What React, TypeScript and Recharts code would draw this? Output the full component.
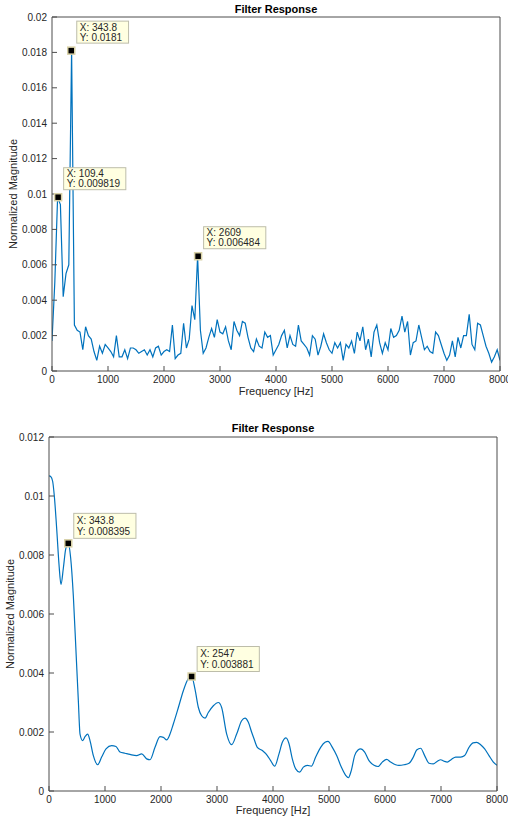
import { ComposedChart, Line, Scatter, XAxis, YAxis } from 'recharts'

// spectrum before filtering, one value every 50 Hz from 0 to 8000 Hz
const STEP_HZ = 50
const rawMags = [
  0.0017, 0.0050, 0.0098, 0.0094, 0.0042, 0.0055, 0.0060, 0.0181, 0.0026, 0.0023,
  0.0022, 0.0012, 0.0025, 0.0020, 0.0018, 0.0011, 0.0006, 0.0014, 0.0010, 0.0015,
  0.0013, 0.0011, 0.0008, 0.0020, 0.0008, 0.0008, 0.0012, 0.0007, 0.0013, 0.0013,
  0.0012, 0.0010, 0.0011, 0.0012, 0.0009, 0.0012, 0.0008, 0.0013, 0.0014, 0.0009,
  0.0011, 0.0012, 0.0011, 0.0026, 0.0007, 0.0009, 0.0010, 0.0027, 0.0013, 0.0018,
  0.0037, 0.0029, 0.00648, 0.0023, 0.0010, 0.0013, 0.0019, 0.0024, 0.0019, 0.0029,
  0.0022, 0.0021, 0.0025, 0.0017, 0.0012, 0.0028, 0.0023, 0.0020, 0.0028, 0.0027,
  0.0019, 0.0013, 0.0011, 0.0018, 0.0014, 0.0013, 0.0022, 0.0019, 0.0020, 0.0009,
  0.0012, 0.0015, 0.0020, 0.0023, 0.0013, 0.0020, 0.0015, 0.0014, 0.0026, 0.0017,
  0.0015, 0.0013, 0.0009, 0.0020, 0.0018, 0.0009, 0.0014, 0.0021, 0.0016, 0.0012,
  0.0010, 0.0016, 0.0013, 0.0016, 0.0006, 0.0015, 0.0013, 0.0017, 0.0010, 0.0022,
  0.0017, 0.0025, 0.0012, 0.0018, 0.0008, 0.0022, 0.0026, 0.0016, 0.0010, 0.0016,
  0.0012, 0.0024, 0.0019, 0.0020, 0.0023, 0.0031, 0.0022, 0.0028, 0.0009, 0.0016,
  0.0017, 0.0026, 0.0019, 0.0012, 0.0014, 0.0011, 0.0010, 0.0022, 0.0020, 0.0015,
  0.0010, 0.0006, 0.0009, 0.0017, 0.0008, 0.0019, 0.0013, 0.0020, 0.0020, 0.0032,
  0.0015, 0.0012, 0.0027, 0.0026, 0.0020, 0.0014, 0.0010, 0.0005, 0.0008, 0.0012,
  0.0006,
]
const rawFreqs = rawMags.map((_, i) => i * STEP_HZ)

// smoothed response, sampled at its turning points
const respFreqs = [
  0, 30, 65, 95, 137, 179, 214, 256, 298, 343.8,
  387, 435, 482, 524, 554, 601, 643, 690, 732, 792,
  869, 940, 1018, 1119, 1196, 1268, 1357, 1446, 1565, 1655,
  1744, 1804, 1893, 1982, 2042, 2101, 2161, 2220, 2310, 2399,
  2488, 2547, 2607, 2667, 2726, 2786, 2845, 2935, 3024, 3083,
  3173, 3262, 3351, 3440, 3500, 3560, 3619, 3661, 3720, 3810,
  3899, 3958, 4030, 4107, 4167, 4232, 4286, 4345, 4405, 4476,
  4542, 4613, 4685, 4762, 4851, 4929, 4982, 5060, 5137, 5220,
  5298, 5345, 5399, 5458, 5518, 5565, 5637, 5714, 5804, 5875,
  5952, 6030, 6101, 6190, 6250, 6339, 6429, 6506, 6565, 6637,
  6708, 6786, 6863, 6935, 6994, 7054, 7113, 7185, 7262, 7351,
  7423, 7500, 7571, 7637, 7708, 7780, 7857, 7935, 8000,
]
const respMags = [
  0.01068, 0.01066, 0.0105, 0.0100, 0.0089, 0.00767, 0.0070, 0.00755, 0.0082, 0.008395,
  0.0079, 0.0066, 0.00474, 0.00306, 0.00193, 0.00171, 0.00184, 0.00193, 0.00171, 0.0012,
  0.00089, 0.00115, 0.00143, 0.00154, 0.00151, 0.00132, 0.00128, 0.00124, 0.0012, 0.00126,
  0.00109, 0.00106, 0.00148, 0.00184, 0.00182, 0.00173, 0.00193, 0.00227, 0.00283, 0.0034,
  0.00381, 0.003881, 0.00345, 0.00283, 0.00255, 0.00247, 0.00266, 0.00289, 0.0030, 0.00283,
  0.00193, 0.00157, 0.00193, 0.00238, 0.00247, 0.00233, 0.00199, 0.00177, 0.00148, 0.00137,
  0.0012, 0.00103, 0.00084, 0.00126, 0.00165, 0.0018, 0.0016, 0.00109, 0.00075, 0.00064,
  0.00081, 0.00087, 0.00084, 0.00115, 0.00148, 0.00165, 0.00168, 0.00148, 0.0012, 0.00081,
  0.00053, 0.00045, 0.0007, 0.0012, 0.00139, 0.00143, 0.00132, 0.00103, 0.00087, 0.00083,
  0.00098, 0.00107, 0.00098, 0.00089, 0.00087, 0.00089, 0.00094, 0.00115, 0.00139, 0.00145,
  0.0012, 0.00094, 0.00092, 0.00101, 0.00106, 0.00101, 0.00098, 0.00107, 0.00115, 0.00115,
  0.0012, 0.00148, 0.00163, 0.00165, 0.00157, 0.00143, 0.0012, 0.00098, 0.00087,
]

// data tips
const rawTipFreqs = [343.8, 109.4, 2609]
const rawTipMags = [0.0181, 0.009819, 0.006484]
const respTipFreqs = [343.8, 2547]
const respTipMags = [0.008395, 0.003881]

const freqTicks = [0, 1000, 2000, 3000, 4000, 5000, 6000, 7000, 8000]
const rawMagTicks = [0, 0.002, 0.004, 0.006, 0.008, 0.01, 0.012, 0.014, 0.016, 0.018, 0.02]
const respMagTicks = [0, 0.002, 0.004, 0.006, 0.008, 0.01, 0.012]

const FONT = "'Liberation Sans', Arial, Helvetica, sans-serif"
const AXIS = '#4d4d4d'
const TEXT = '#262626'
const BLUE = '#0072BD'

const zip = (fs: number[], vs: number[]) => fs.map((f, i) => ({ f, v: vs[i] }))

function DataTip(props: any) {
  const { cx, cy, payload, boxH, lift, lineGap } = props
  if (cx == null || cy == null) return null
  const lines = [`X: ${payload.f}`, `Y: ${payload.v}`]
  const w = Math.max(...lines.map((s) => s.length)) * 5.2 + 5
  const left = cx + 5.5
  const top = cy - lift - boxH
  const first = top + (boxH - lineGap) / 2 + 3.5
  return (
    <g>
      <rect x={left} y={top} width={w} height={boxH} fill="#FFFFE1" stroke="#BDBDAA" strokeWidth={1} />
      {lines.map((s, i) => (
        <text key={i} x={left + 3} y={first + i * lineGap} fontSize={10} fill={TEXT} fontFamily={FONT}>
          {s}
        </text>
      ))}
      <rect x={cx - 3.5} y={cy - 3.5} width={7} height={7} fill="#000" stroke="#D8D1A6" strokeWidth={1.5} />
    </g>
  )
}

interface PanelProps {
  height: number
  top: number
  right: number
  yWidth: number
  xHeight: number
  data: { f: number; v: number }[]
  tips: { f: number; v: number }[]
  yTicks: number[]
  yMax: number
  curve: 'linear' | 'monotone'
  boxH: number
  lineGap: number
  lift: number
  titleLift: number
  xTitleDrop: number
  yTitleX: number
}

function Panel(p: PanelProps) {
  const tick = { fontSize: 10, fill: TEXT, fontFamily: FONT }
  const axisLine = { stroke: AXIS, strokeWidth: 1 }
  return (
    <ComposedChart
      width={508}
      height={p.height}
      // the top and right box axes are 1px wide, taken off the margins here
      margin={{ top: p.top - 1, right: p.right - 1, bottom: 0, left: 0 }}
      style={{ fontFamily: FONT }}
    >
      <XAxis
        xAxisId="b"
        dataKey="f"
        type="number"
        domain={[0, 8000]}
        allowDataOverflow
        ticks={freqTicks}
        interval={0}
        height={p.xHeight}
        tickSize={-5}
        tickMargin={10}
        tick={tick}
        tickLine={axisLine}
        axisLine={axisLine}
        label={{
          content: ({ viewBox }: any) => (
            <text
              x={viewBox.x + viewBox.width / 2}
              y={viewBox.y + p.xTitleDrop}
              textAnchor="middle"
              fontSize={11}
              fill={TEXT}
              fontFamily={FONT}
            >
              Frequency [Hz]
            </text>
          ),
        }}
      />
      <XAxis
        xAxisId="t"
        orientation="top"
        type="number"
        domain={[0, 8000]}
        allowDataOverflow
        ticks={freqTicks}
        interval={0}
        height={1}
        tickSize={-5}
        tick={false}
        tickLine={axisLine}
        axisLine={axisLine}
        label={{
          content: ({ viewBox }: any) => (
            <text
              x={viewBox.x + viewBox.width / 2}
              y={viewBox.y + viewBox.height - p.titleLift}
              textAnchor="middle"
              fontSize={11}
              fontWeight="bold"
              fill="#000"
              fontFamily={FONT}
            >
              Filter Response
            </text>
          ),
        }}
      />
      <YAxis
        yAxisId="l"
        type="number"
        domain={[0, p.yMax]}
        allowDataOverflow
        ticks={p.yTicks}
        interval={0}
        width={p.yWidth}
        tickSize={-5}
        tickMargin={10}
        tick={tick}
        tickLine={axisLine}
        axisLine={axisLine}
        tickFormatter={(v: number) => String(v)}
        label={{
          content: ({ viewBox }: any) => {
            const x = p.yTitleX
            const y = viewBox.y + viewBox.height / 2
            return (
              <text
                x={x}
                y={y}
                transform={`rotate(-90, ${x}, ${y})`}
                textAnchor="middle"
                dominantBaseline="central"
                fontSize={11}
                fill={TEXT}
                fontFamily={FONT}
              >
                Normalized Magnitude
              </text>
            )
          },
        }}
      />
      <YAxis
        yAxisId="r"
        orientation="right"
        type="number"
        domain={[0, p.yMax]}
        allowDataOverflow
        ticks={p.yTicks}
        interval={0}
        width={1}
        tickSize={-5}
        tick={false}
        tickLine={axisLine}
        axisLine={axisLine}
      />
      <Line
        xAxisId="b"
        yAxisId="l"
        data={p.data}
        dataKey="v"
        type={p.curve}
        stroke={BLUE}
        strokeWidth={1.2}
        dot={false}
        activeDot={false}
        isAnimationActive={false}
      />
      <Scatter
        xAxisId="b"
        yAxisId="l"
        data={p.tips}
        dataKey="v"
        isAnimationActive={false}
        shape={(s: any) => <DataTip {...s} boxH={p.boxH} lineGap={p.lineGap} lift={p.lift} />}
      />
    </ComposedChart>
  )
}

export default function App() {
  return (
    <div style={{ position: 'absolute', left: 0, top: 0, width: 508, height: 818, background: '#fff' }}>
      <Panel
        height={410}
        top={17}
        right={8}
        yWidth={52}
        xHeight={39}
        data={zip(rawFreqs, rawMags)}
        tips={zip(rawTipFreqs, rawTipMags)}
        yTicks={rawMagTicks}
        yMax={0.02}
        curve="linear"
        boxH={22}
        lineGap={10}
        lift={7.5}
        titleLift={4}
        xTitleDrop={24}
        yTitleX={13}
      />
      <Panel
        height={408}
        top={27}
        right={11}
        yWidth={49}
        xHeight={27}
        data={zip(respFreqs, respMags)}
        tips={zip(respTipFreqs, respTipMags)}
        yTicks={respMagTicks}
        yMax={0.012}
        curve="monotone"
        boxH={25}
        lineGap={11.5}
        lift={5}
        titleLift={5}
        xTitleDrop={23}
        yTitleX={10}
      />
    </div>
  )
}
